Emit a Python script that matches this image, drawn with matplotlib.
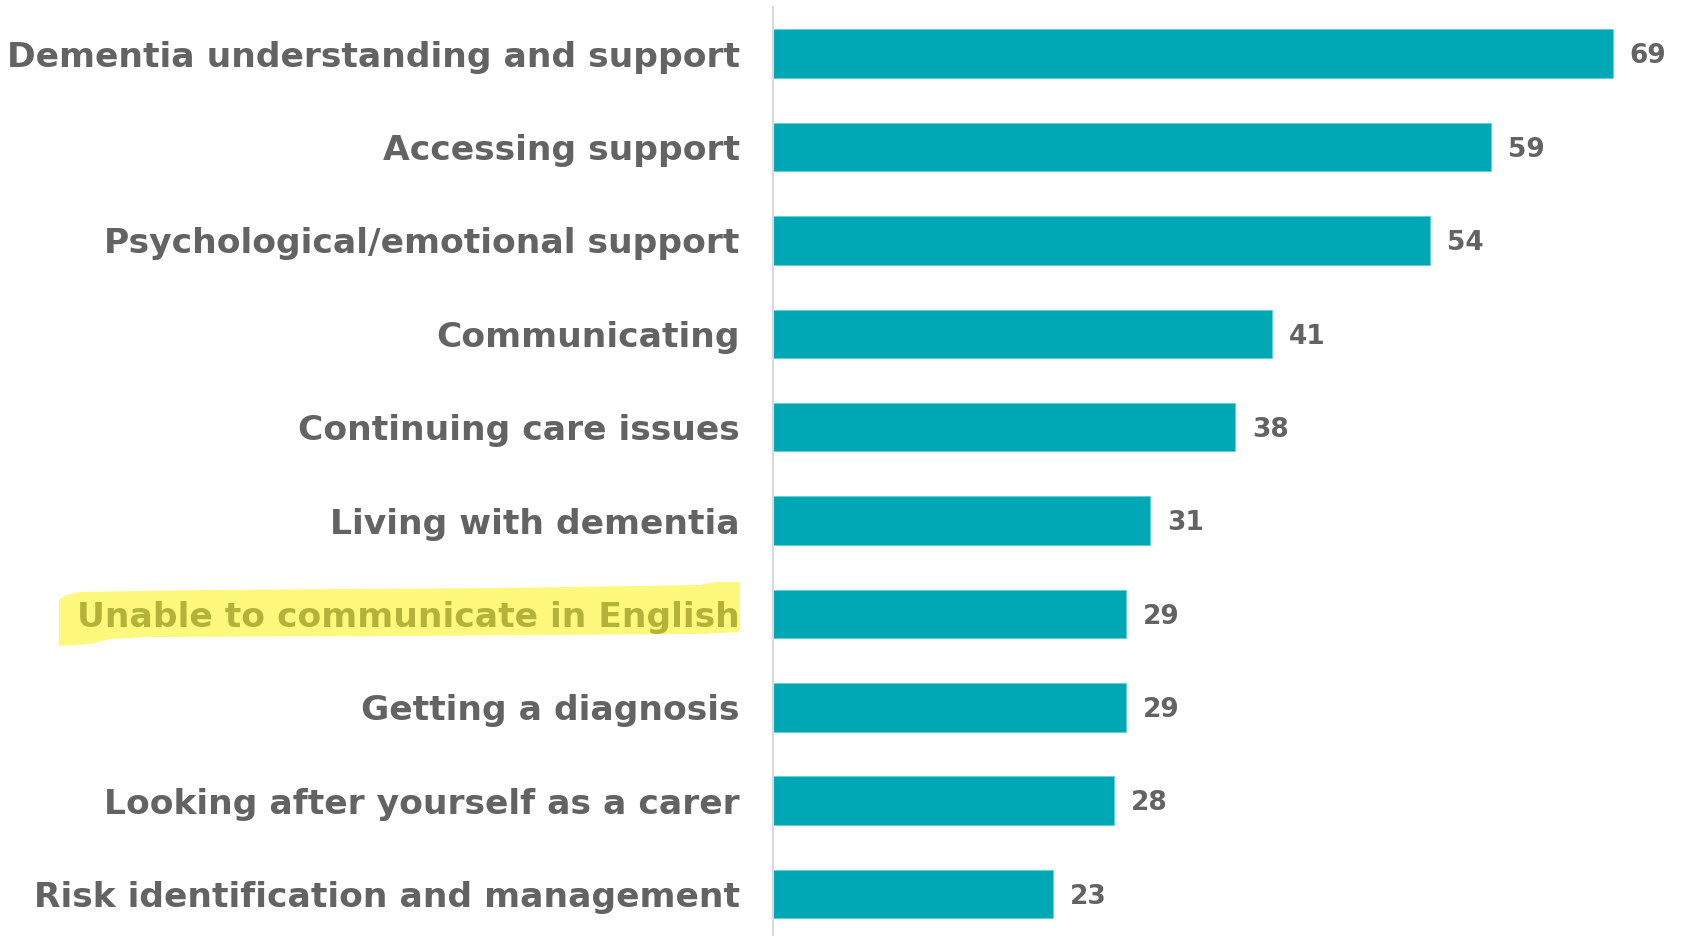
import matplotlib
matplotlib.use("Agg")
import matplotlib.pyplot as plt
from matplotlib.patches import Polygon

categories = [
    "Dementia understanding and support",
    "Accessing support",
    "Psychological/emotional support",
    "Communicating",
    "Continuing care issues",
    "Living with dementia",
    "Unable to communicate in English",
    "Getting a diagnosis",
    "Looking after yourself as a carer",
    "Risk identification and management",
]
values = [69, 59, 54, 41, 38, 31, 29, 29, 28, 23]
highlight = "Unable to communicate in English"

W, H = 1682, 936
fig = plt.figure(figsize=(W / 100, H / 100), dpi=100)
ax_left = 773 / W
ax_top = 1 - 7 / H
ax = fig.add_axes([ax_left, 0, 1 - ax_left, ax_top])
ax.set_zorder(2)
ax.patch.set_alpha(0)

bar_color = "#00a8b5"
text_color = "#636363"
ypos = list(range(len(categories)))
ax.barh(ypos, values, height=0.52, color=bar_color, edgecolor="#5fd0d8", linewidth=0.6, zorder=2)
ax.set_ylim(9.45, -0.5)
ax.set_xlim(0, 74.7)

for spine in ["top", "right", "bottom"]:
    ax.spines[spine].set_visible(False)
ax.spines["left"].set_color("#d9d9d9")
ax.spines["left"].set_linewidth(1.5)
ax.set_xticks([])
ax.set_yticks(ypos)
ax.set_yticklabels(categories)
ax.tick_params(axis="y", length=0, pad=24)
for lbl in ax.get_yticklabels():
    lbl.set_fontsize(24.8)
    lbl.set_fontweight("bold")
    lbl.set_color(text_color)
    if lbl.get_text() == highlight:
        lbl.set_color("#b3b33a")

for y, v in zip(ypos, values):
    ax.annotate(str(v), (v, y), xytext=(12, -2), textcoords="offset points",
                ha="left", va="center", fontsize=19, fontweight="bold", color=text_color)

# yellow highlighter stroke behind the highlighted label
pts = [(59, 600), (66, 595), (80, 592), (200, 590), (500, 588), (700, 585), (716, 582),
       (740, 582), (740, 632), (700, 634), (400, 636), (150, 637), (110, 639), (90, 644), (59, 646)]
poly = Polygon([(x / W, 1 - y / H) for x, y in pts], closed=True, transform=fig.transFigure,
               facecolor="#fef97c", edgecolor="none", zorder=0)
fig.patches.append(poly)

fig.savefig("out.png", dpi=100)
